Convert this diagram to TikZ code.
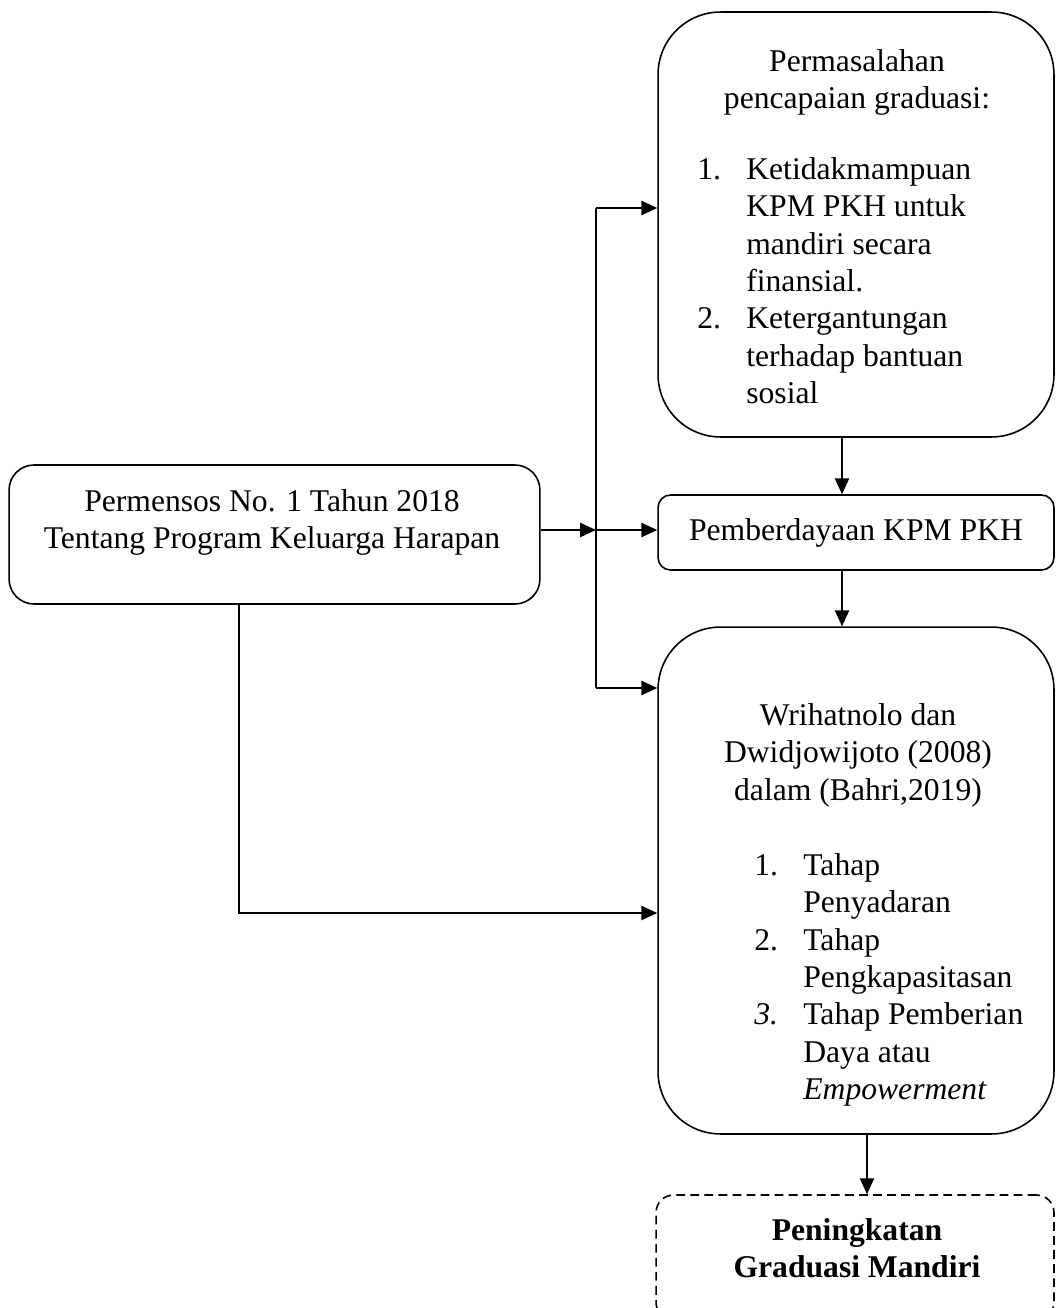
\documentclass[tikz,border=0pt]{standalone}
\usepackage{fontspec}
\setmainfont{Liberation Serif}
\usetikzlibrary{arrows.meta}

\newlength{\numwd}
\setlength{\numwd}{0.98cm}
\newcommand{\numitem}[2]{\makebox[\numwd][l]{#1}#2}
\newcommand{\cont}[1]{\hspace*{\numwd}#1}

\begin{document}
\begin{tikzpicture}[x = 0.02cm, y = -0.02cm,
        box/.style = {draw, line width = 0.9pt},
        txt/.style = {inner sep = 0pt, font = \fontsize{18}{21.3}\selectfont},
        arr/.style = {line width = 1.1pt, -{Triangle[length = 9pt, width = 8pt]}},
        line/.style = {line width = 1.1pt}]
        \useasboundingbox (0, 0) rectangle (1057, 1308);
        \node[box, rounded corners = 1.25cm, minimum width = 7.92cm, minimum height = 8.5cm] (masalah) at (856, 224.5) {};
        \node[box, rounded corners = 0.25cm, minimum width = 7.92cm, minimum height = 1.5cm, txt] (pember) at (856, 532.5) {Pemberdayaan KPM PKH};
        \node[box, rounded corners = 1.25cm, minimum width = 7.92cm, minimum height = 10.14cm] (wri) at (856, 880.5) {};
        \node[box, rounded corners = 0.5cm, minimum width = 10.62cm, minimum height = 2.78cm] (perm) at (274.5, 534.5) {};
        \node[box, dash pattern = on 5pt off 3pt, rounded corners = 0.35cm, minimum width = 7.96cm, minimum height = 2.5cm] (goal) at (855, 1257.5) {};
        \node[txt, align = center, anchor = north] (perm-text) at (272, 489) {Permensos No. 1 Tahun 2018\\Tentang Program Keluarga Harapan};
        \node[txt, align = center, anchor = north] (masalah-title) at (857, 49) {Permasalahan\\pencapaian graduasi:};
        \node[txt, align = left, anchor = north west] (masalah-list) at (697, 157) {\numitem{1.}{Ketidakmampuan}\\\cont{KPM PKH untuk}\\\cont{mandiri secara}\\\cont{finansial.}\\\numitem{2.}{Ketergantungan}\\\cont{terhadap bantuan}\\\cont{sosial}};
        \node[txt, align = center, anchor = north] (wri-title) at (858, 703) {Wrihatnolo dan\\Dwidjowijoto (2008)\\dalam (Bahri,2019)};
        \node[txt, align = left, anchor = north west] (wri-list) at (754, 853) {\numitem{1.}{Tahap}\\\cont{Penyadaran}\\\numitem{2.}{Tahap}\\\cont{Pengkapasitasan}\\\numitem{\textit{3.}}{Tahap Pemberian}\\\cont{Daya atau}\\\cont{\textit{Empowerment}}};
        \node[txt, align = center, anchor = north] (goal-text) at (857, 1218) {\textbf{Peningkatan}\\\textbf{Graduasi Mandiri}};
        \coordinate (split) at (596, 530);
        \coordinate (forktop) at (596, 208);
        \coordinate (forkbot) at (596, 688);
        \coordinate (turn) at (239, 913);
        \coordinate (midx) at (842, 0);
        \coordinate (lowx) at (867, 0);
        \draw[line] (forktop) -- (forkbot);
        \draw[arr] (perm.east |- split) -- (split);
        \draw[arr] (forktop) -- (forktop -| masalah.west);
        \draw[arr] (split) -- (split -| pember.west);
        \draw[arr] (forkbot) -- (forkbot -| wri.west);
        \draw[arr] (perm.south -| turn) -- (turn) -- (turn -| wri.west);
        \draw[arr] (masalah.south -| midx) -- (pember.north -| midx);
        \draw[arr] (pember.south -| midx) -- (wri.north -| midx);
        \draw[arr] (wri.south -| lowx) -- (goal.north -| lowx);
    \end{tikzpicture}
\end{document}
